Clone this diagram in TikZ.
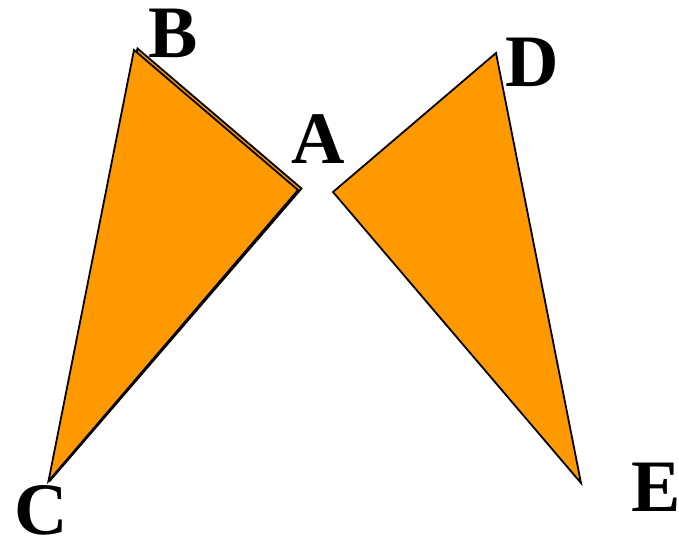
\documentclass[tikz,border=0pt]{standalone}
\usepackage{fontspec}
\setmainfont{Liberation Serif}
\definecolor{tri}{HTML}{FF9900}
\begin{document}
\begin{tikzpicture}[x=1pt,y=-1pt,
  face/.style={fill=tri,draw=black,line width=1.8pt,line join=miter},
  lab/.style={anchor=base,inner sep=0pt,font=\fontsize{74}{74}\selectfont\bfseries}]
\useasboundingbox (0,0) rectangle (679,541);
% left triangle (back copy, slightly offset)
\coordinate (Bb) at (137.5,48.5);
\coordinate (Ab) at (301.5,188.5);
\coordinate (Cb) at (51,479.5);
\filldraw[face] (Bb) -- (Ab) -- (Cb) -- cycle;
% left triangle (front)
\coordinate (B) at (134,50);
\coordinate (A1) at (298,190);
\coordinate (C) at (48.5,481);
\filldraw[face] (B) -- (A1) -- (C) -- cycle;
% right triangle
\coordinate (A2) at (333,192);
\coordinate (D) at (496,53);
\coordinate (E) at (581,483);
\filldraw[face] (A2) -- (D) -- (E) -- cycle;
% labels
\node[lab] (lB) at (173,57) {B};
\node[lab] (lA) at (318,163) {A};
\node[lab] (lD) at (532,86) {D};
\node[lab] (lC) at (41,534) {C};
\node[lab] (lE) at (656,511) {E};
\end{tikzpicture}
\end{document}
